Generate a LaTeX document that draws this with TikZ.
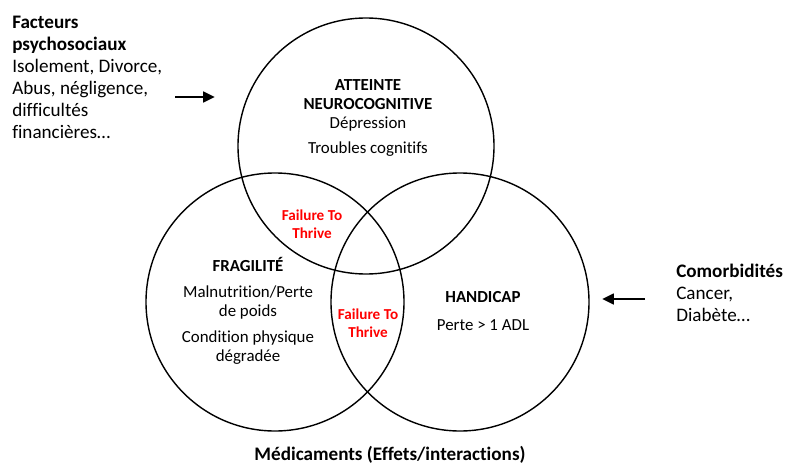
\documentclass[tikz,border=0pt]{standalone}
\usepackage{fontspec}
\setmainfont{Carlito}[Ligatures=NoCommon]
\usetikzlibrary{arrows.meta}
\tikzset{
  ring/.style={line width=1pt},
  push/.style={line width=2pt,-{Triangle[length=8.5pt,width=7.5pt]}},
  sidetext/.style={align=left,inner sep=0pt,font=\fontsize{13.6}{15.6}\selectfont},
  settext/.style={align=center,inner sep=0pt,font=\fontsize{12}{13.5}\selectfont},
  ftt/.style={align=center,inner sep=0pt,text=red,font=\bfseries\fontsize{10.8}{12.8}\selectfont}
}
\begin{document}
\begin{tikzpicture}[x=0.025cm,y=-0.025cm]
				\useasboundingbox (0,0) rectangle (785,467);
				
				\draw[ring] (366,146) circle (128);
				\draw[ring] (275,302) circle (129);
				\draw[ring] (460,302) circle (129);
				
				\node[settext] (neuro) at (368,118) {\textbf{ATTEINTE}\\\textbf{NEUROCOGNITIVE}\\Dépression\\[4pt]Troubles cognitifs};
				\node[settext] (fragil) at (248,311) {\textbf{FRAGILITÉ}\\[5pt]Malnutrition/Perte\\de poids\\[5pt]Condition physique\\dégradée};
				\node[settext] (handicap) at (483,311) {\textbf{HANDICAP}\\[6pt]Perte > 1 ADL};
				
				\node[ftt] (fttone) at (312,224) {Failure To\\Thrive};
				\node[ftt] (ftttwo) at (368,323) {Failure To\\Thrive};
				
				\node[sidetext,anchor=north west] (psycho) at (12,16) {\textbf{Facteurs}\\\textbf{psychosociaux}\\Isolement, Divorce,\\Abus, négligence,\\difficultés\\financières…};
				\node[sidetext,anchor=north west] (comorb) at (676,264) {\textbf{Comorbidités}\\Cancer,\\Diabète…};
				\node[sidetext,font=\bfseries\fontsize{13.6}{15.6}\selectfont] (medic) at (390,455) {Médicaments (Effets/interactions)};
				
				\coordinate (psyfrom) at (175,97);
				\coordinate (psyto) at (215,97);
				\coordinate (comfrom) at (645,299);
				\coordinate (comto) at (602,299);
				\draw[push] (psyfrom) -- (psyto);
				\draw[push] (comfrom) -- (comto);
\end{tikzpicture}
\end{document}
